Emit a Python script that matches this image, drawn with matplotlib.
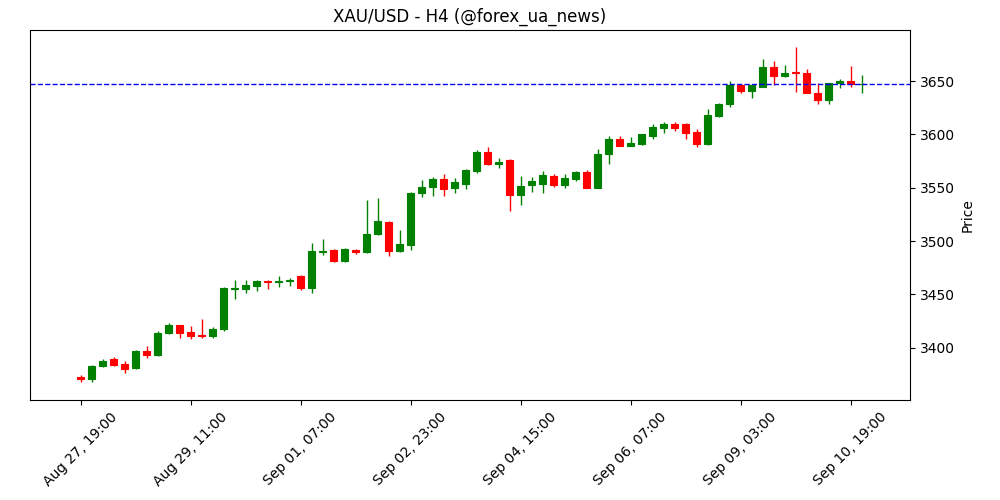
import matplotlib
matplotlib.use("Agg")
import matplotlib.pyplot as plt
import numpy as np

opens = [3373,3371,3383,3389,3385,3381,3397,3393,3414,3421,3415,3412,3411,3418,3455,3455,3458,3463,3462,3463,
         3467,3456,3490,3492,3481,3492,3490,3507,3518,3491,3496,3545,3551,3558,3550,3554,3566,3584,3572,3576,
         3543,3553,3554,3561,3553,3558,3565,3550,3582,3596,3589,3591,3599,3606,3610,3610,3602,3591,3617,3629,
         3646,3641,3645,3663,3655,3659,3658,3639,3632,3648,3650,3647]
highs = [3374,3384,3389,3391,3388,3398,3402,3416,3423,3421,3420,3427,3419,3457,3464,3464,3464,3464,3467,3465,
         3468,3498,3502,3493,3494,3493,3539,3540,3519,3510,3546,3557,3560,3563,3559,3568,3585,3588,3578,3577,
         3561,3560,3566,3563,3563,3566,3567,3586,3599,3599,3598,3600,3610,3612,3612,3611,3605,3624,3630,3650,
         3646,3647,3671,3669,3665,3682,3661,3648,3648,3652,3664,3656]
lows = [3368,3368,3382,3383,3376,3380,3390,3392,3413,3409,3408,3409,3409,3416,3446,3451,3453,3455,3457,3458,
        3454,3451,3487,3480,3480,3488,3489,3506,3486,3490,3492,3541,3542,3542,3545,3549,3564,3571,3569,3528,
        3534,3546,3545,3551,3550,3556,3550,3550,3572,3589,3589,3590,3596,3601,3603,3596,3588,3590,3616,3626,
        3639,3634,3645,3646,3654,3640,3639,3629,3629,3644,3645,3639]
closes = [3371,3383,3388,3384,3380,3397,3393,3414,3421,3414,3411,3411,3418,3456,3456,3459,3463,3462,3463,3464,
          3456,3491,3491,3481,3493,3490,3507,3519,3491,3497,3545,3551,3558,3549,3555,3567,3584,3572,3574,3543,
          3552,3556,3562,3553,3559,3565,3550,3582,3596,3589,3592,3600,3607,3610,3606,3601,3591,3618,3629,3646,
          3641,3646,3663,3655,3658,3658,3639,3632,3648,3650,3647,3647]
tick_labels = ["Aug 27, 19:00","Aug 29, 11:00","Sep 01, 07:00","Sep 02, 23:00",
               "Sep 04, 15:00","Sep 06, 07:00","Sep 09, 03:00","Sep 10, 19:00"]
last_price = 3647

o = np.array(opens); h = np.array(highs); l = np.array(lows); c = np.array(closes)
x = np.arange(len(o))
col = np.where(c >= o, "green", "red")

fig = plt.figure(figsize=(10, 5), dpi=100)
ax = fig.add_axes([0.03, 0.2, 0.88, 0.74])
ax.vlines(x, l, h, colors=col, linewidth=1)
bottom = np.minimum(o, c)
height = np.maximum(np.abs(c - o), 0.6)
ax.bar(x, height, bottom=bottom, width=0.6, color=col, edgecolor=col, linewidth=0.8)
ax.axhline(last_price, color="blue", linestyle="--", linewidth=1)
ax.set_xlim(-4.6, 75.4)
ax.set_ylim(3351, 3698)
ax.set_xticks(np.arange(0, 80, 10))
ax.set_xticklabels(tick_labels, rotation=45, ha="center")
ax.yaxis.tick_right()
ax.yaxis.set_label_position("right")
ax.set_yticks(np.arange(3400, 3651, 50))
ax.set_ylabel("Price")
ax.set_title("XAU/USD - H4 (@forex_ua_news)")
fig.savefig("out.png")
